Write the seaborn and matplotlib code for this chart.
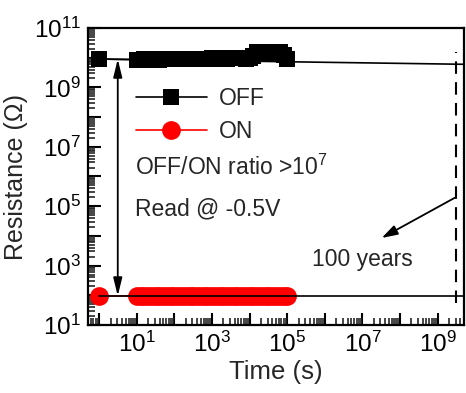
import numpy as np
import pandas as pd
import matplotlib
matplotlib.use("Agg")
import matplotlib.pyplot as plt
from matplotlib.ticker import LogLocator, FuncFormatter, NullFormatter
import seaborn as sns

# ---- data ----
time_s = [1, 10, 12.6, 15.8, 20, 25.1, 31.6, 39.8, 50.1, 63.1, 79.4,
          100, 126, 158, 200, 251, 316, 398, 501, 631, 794,
          1000, 1260, 1580, 2000, 2510, 3160, 3980, 5010, 6310, 7940,
          10000, 12600, 15800, 20000, 25100, 31600, 39800, 50100, 63100, 79400,
          100000]
off_res = [9.0e9, 8.6e9, 8.4e9, 8.8e9, 8.5e9, 8.7e9, 8.9e9, 8.6e9, 8.8e9, 9.0e9, 8.7e9,
           8.9e9, 9.1e9, 8.8e9, 9.0e9, 9.2e9, 8.9e9, 9.1e9, 9.3e9, 9.0e9, 9.2e9,
           9.4e9, 9.1e9, 9.3e9, 9.5e9, 9.2e9, 9.6e9, 9.4e9, 9.8e9, 9.6e9, 9.3e9,
           9.8e9, 11.0e9, 15.0e9, 13.0e9, 14.5e9, 15.5e9, 16.0e9, 14.0e9, 15.0e9, 12.0e9,
           9.0e9]
on_res = [95, 95, 96, 94, 95, 97, 95, 94, 96, 95, 95,
          94, 96, 95, 95, 97, 94, 95, 96, 95, 94,
          95, 96, 95, 94, 95, 97, 95, 96, 94, 95,
          95, 96, 94, 95, 95, 96, 95, 94, 96, 95,
          95]
fit_t = [1, 5e9]
off_fit = [9.0e9, 6.0e9]
on_fit = [95, 95]
ratio_arrow_t = 3.1
years100_t = 3.15e9
dash_range = [55, 1.6e10]

df = pd.DataFrame({"Time (s)": time_s * 2,
                   "R": off_res + on_res,
                   "State": ["OFF"] * len(time_s) + ["ON"] * len(time_s)})

sns.set_theme(style="ticks")
plt.rcParams["font.family"] = ["Liberation Sans", "DejaVu Sans"]
plt.rcParams["mathtext.fontset"] = "custom"
plt.rcParams["mathtext.rm"] = "Liberation Sans"
plt.rcParams["mathtext.it"] = "Liberation Sans"

fig = plt.figure(figsize=(4.66, 3.93), dpi=100)
ax = fig.add_axes([88 / 466, 1 - 325 / 393, 376 / 466, 297 / 393])
ax.set_xscale("log")
ax.set_yscale("log")

sns.lineplot(data=df[df.State == "OFF"], x="Time (s)", y="R", ax=ax,
             color="black", marker="s", markersize=12, markeredgewidth=0,
             linewidth=1.2, estimator=None, sort=True, label="OFF", zorder=3)
sns.lineplot(data=df[df.State == "ON"], x="Time (s)", y="R", ax=ax,
             color="red", marker="o", markersize=13.5, markeredgewidth=0,
             linewidth=1.2, estimator=None, sort=True, label="ON", zorder=3)

ax.plot(fit_t, off_fit, color="black", lw=1.2, zorder=2)
ax.plot(fit_t, on_fit, color="black", lw=1.2, zorder=4)

ax.plot([years100_t, years100_t], dash_range, color="black", lw=1.5,
        ls=(0, (6, 4)), zorder=2)

ax.annotate("", xy=(ratio_arrow_t, off_fit[0]), xytext=(ratio_arrow_t, on_fit[0]),
            arrowprops=dict(arrowstyle="<|-|>,head_length=0.9,head_width=0.22",
                            color="black", lw=1.3, shrinkA=0, shrinkB=0))
ax.annotate("", xy=(10 ** 7.51, 10 ** 3.93), xytext=(10 ** 9.45, 10 ** 5.28),
            arrowprops=dict(arrowstyle="-|>,head_length=0.8,head_width=0.25",
                            color="black", lw=1.3, shrinkA=0, shrinkB=0))
ax.text(10 ** 7.0, 10 ** 3.22, "100 years", fontsize=16.5, ha="center", va="center")
ax.text(0.125, 0.532, r"OFF/ON ratio >10$^{7}$", transform=ax.transAxes,
        fontsize=16.5, ha="left", va="center")
ax.text(0.125, 0.392, "Read @ -0.5V", transform=ax.transAxes,
        fontsize=16.5, ha="left", va="center")

ax.set_xlim(10 ** -0.3, 10 ** 9.7)
ax.set_ylim(1e1, 1e11)

def fmt(v, pos):
    e = int(round(np.log10(v)))
    if e % 2 == 1:
        return r"$\mathregular{10^{%d}}$" % e
    return ""

for axis in (ax.xaxis, ax.yaxis):
    axis.set_major_locator(LogLocator(base=10, numticks=20))
    axis.set_minor_locator(LogLocator(base=10, subs=np.arange(2, 10), numticks=20))
    axis.set_major_formatter(FuncFormatter(fmt))
    axis.set_minor_formatter(NullFormatter())

ax.tick_params(which="major", direction="in", length=9, width=1.5,
               labelsize=17.5, pad=5, top=False, right=False, colors="black")
ax.tick_params(which="minor", direction="in", length=5, width=1.2,
               top=False, right=False)
for s in ax.spines.values():
    s.set_linewidth(1.6)
    s.set_color("black")
    s.set_visible(True)

ax.set_xlabel("Time (s)", fontsize=18.5, labelpad=2)
ax.set_ylabel("Resistance (Ω)", fontsize=18, labelpad=4)

leg = ax.legend(loc="upper left", bbox_to_anchor=(0.102, 0.832), frameon=False,
                fontsize=16.5, handlelength=3.1, handletextpad=0.55,
                labelspacing=0.42, borderaxespad=0)

fig.savefig("out.png", dpi=100)
